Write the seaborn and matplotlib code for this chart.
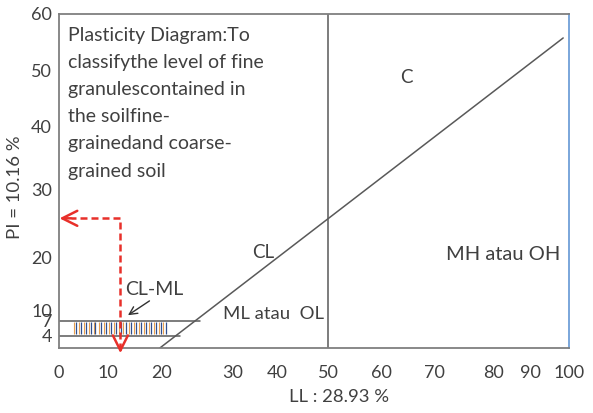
import numpy as np
import seaborn as sns
import matplotlib.pyplot as plt

# axis ticks of the diagram
ll_ticks = [0, 10, 20, 30, 40, 50, 60, 70, 80, 90, 100]
pi_ticks = [4, 7, 10, 20, 30, 40, 50, 60]

# the original axes are hand drawn and not evenly spaced:
# where each value sits along the axis (0 = start, 1 = end)
ll_ref = [-10, 0, 10, 20, 30, 40, 50, 60, 70, 80, 90, 100, 110]
ll_frac = [-0.096, 0, 0.096, 0.202, 0.341, 0.427, 0.528, 0.633, 0.737, 0.851, 0.924, 1.0, 1.096]
pi_ref = [-5, 0, 4, 7, 10, 20, 30, 40, 50, 60, 70]
pi_frac = [-0.06, 0, 0.036, 0.082, 0.112, 0.272, 0.475, 0.661, 0.830, 1.0, 1.17]

# A-line
aline_ll = [19.6, 98.5]
aline_pi = [0, 55.7]

# U-shaped band of CL-ML (PI 4 and 7)
band_pi = [7, 4]
band_end = [25.4, 22.5]
hatch_ll = [3.3, 4.3, 5.3, 6.3, 7.3, 8.4, 9.4, 10.4, 11.3, 12.2,
            13.1, 14.1, 15.0, 15.9, 16.9, 17.8, 18.7, 19.6, 20.4]
hatch_pi = [4.3, 6.8]

# sample reading
sample_ll = 12.3
sample_pi = 25.7

sns.set_theme(style='white')
plt.rcParams['font.family'] = ['Lato', 'DejaVu Sans']

txt = '#404040'
line_col = '#595959'
red = '#e8302a'

fig = plt.figure(figsize=(5.93, 4.13), dpi=100)
ax = fig.add_axes([59 / 593, 65 / 413, 510 / 593, 334.5 / 413])

ax.set_xscale('function', functions=(lambda v: np.interp(v, ll_ref, ll_frac),
                                     lambda v: np.interp(v, ll_frac, ll_ref)))
ax.set_yscale('function', functions=(lambda v: np.interp(v, pi_ref, pi_frac),
                                     lambda v: np.interp(v, pi_frac, pi_ref)))
ax.set_xlim(0, 100)
ax.set_ylim(0, 60)

# A-line and LL = 50
sns.lineplot(x=aline_ll, y=aline_pi, ax=ax, color=line_col, lw=1.1)
ax.axvline(50, color=line_col, lw=1.1)

# PI 4 / 7 lines and hatching
for p, e in zip(band_pi, band_end):
    ax.plot([0, e], [p, p], color=line_col, lw=1.1)
ax.vlines([h - 0.25 for h in hatch_ll], hatch_pi[0], hatch_pi[1], color='#e8a050', lw=0.8)
ax.vlines([h + 0.15 for h in hatch_ll], hatch_pi[0], hatch_pi[1], color='#2f4f8f', lw=0.9)

# red dashed reading arrows
ax.plot([sample_ll, sample_ll, 2.5], [-0.6, sample_pi, sample_pi], color=red, lw=1.8,
        dashes=(2.8, 1.6), clip_on=False)
head = dict(arrowstyle='->,head_length=0.9,head_width=0.45', color=red, lw=1.8,
            mutation_scale=12, shrinkA=0, shrinkB=0)
ax.annotate('', xy=(0.1, sample_pi), xytext=(2.5, sample_pi), arrowprops=head,
            annotation_clip=False)
ax.annotate('', xy=(sample_ll, -1.3), xytext=(sample_ll, 0.5), arrowprops=head,
            annotation_clip=False)

# labels inside the chart
ax.annotate('CL-ML', xy=(13.7, 8.6), xytext=(13.2, 14), fontsize=14, color=txt,
            va='center', ha='left',
            arrowprops=dict(arrowstyle='->', color='#303030', lw=1, shrinkA=0, shrinkB=0,
                            relpos=(0.5, 0)))
ax.text(36.8, 20.6, 'CL', fontsize=13.5, color=txt, ha='center', va='center')
ax.text(64.7, 48.8, 'C', fontsize=13.5, color=txt, ha='center', va='center')
ax.text(82.7, 20.3, 'MH atau OH', fontsize=14.5, color=txt, ha='center', va='center')
ax.text(39.3, 8.9, 'ML atau  OL', fontsize=13.3, color=txt, ha='center', va='center')
ax.text(1.8, 57.6, 'Plasticity Diagram:To\nclassifythe level of fine\ngranulescontained in\n'
        'the soilfine-\ngrainedand coarse-\ngrained soil',
        fontsize=14, color=txt, ha='left', va='top', linespacing=1.72)

ax.set_xticks(ll_ticks)
ax.set_yticks(pi_ticks)
ax.set_xticklabels([str(v) for v in ll_ticks])
ax.set_yticklabels([str(v) for v in pi_ticks])
ax.tick_params(axis='x', length=0, pad=12, labelsize=13, labelcolor=txt)
ax.tick_params(axis='y', length=0, pad=5, labelsize=13, labelcolor=txt)
ax.minorticks_off()

ax.set_xlabel('LL : 28.93 %', fontsize=13.3, color=txt)
ax.set_ylabel('PI = 10.16 %', fontsize=13.3, color=txt)
ax.xaxis.set_label_coords(0.549, -0.122)
ax.yaxis.set_label_coords(-0.07, 0.48)

for side in ['left', 'bottom', 'top']:
    ax.spines[side].set_color('#7f7f7f')
    ax.spines[side].set_linewidth(1.3)
ax.spines['right'].set_color('#6f9fd8')
ax.spines['right'].set_linewidth(1.3)

fig.savefig('out.png', dpi=100)
